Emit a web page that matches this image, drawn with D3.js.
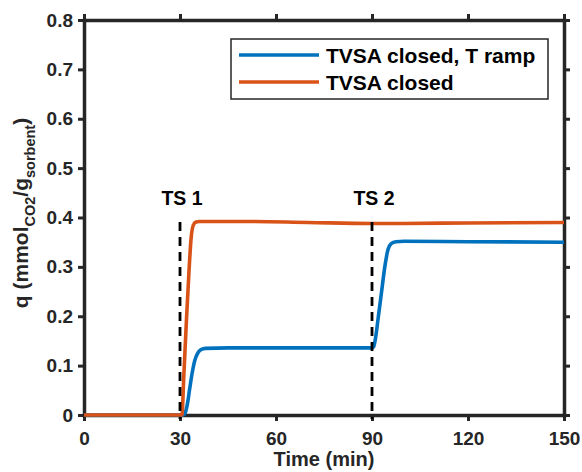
<!DOCTYPE html>
<html>
<head>
<meta charset="utf-8">
<script src="https://cdn.jsdelivr.net/npm/d3@7/dist/d3.min.js"></script>
<style>
  html, body { margin: 0; padding: 0; background: #fff; }
  svg { display: block; font-family: "Liberation Sans", Arial, sans-serif; }
</style>
</head>
<body>
<svg id="chart" width="582" height="472"></svg>
<script>
// ---- data ----
const xTicks = [0, 30, 60, 90, 120, 150];
const yTicks = [0, 0.1, 0.2, 0.3, 0.4, 0.5, 0.6, 0.7, 0.8];
const yTickLabels = ["0", "0.1", "0.2", "0.3", "0.4", "0.5", "0.6", "0.7", "0.8"];

const seriesNames = ["TVSA closed, T ramp", "TVSA closed"];
const seriesColors = ["#0072BD", "#D95319"];

// TVSA closed, T ramp (blue)
const rampTime = [0, 31, 31.6, 32.3, 33, 33.8, 34.6, 35.5, 36.5, 38, 45, 60, 75, 90, 90.5, 91.2, 92, 93, 94, 95, 96, 97.5, 100, 120, 150];
const rampQ    = [0, 0, 0.004, 0.022, 0.052, 0.085, 0.11, 0.125, 0.132, 0.135, 0.136, 0.136, 0.136, 0.136, 0.138, 0.16, 0.2, 0.25, 0.3, 0.335, 0.347, 0.351, 0.352, 0.351, 0.35];

// TVSA closed (orange)
const closedTime = [0, 30, 30.6, 31.2, 32, 32.8, 33.5, 34.2, 35, 36, 50, 70, 90, 100, 120, 150];
const closedQ    = [0, 0, 0.0, 0.08, 0.19, 0.29, 0.36, 0.385, 0.391, 0.392, 0.392, 0.39, 0.388, 0.388, 0.389, 0.39];

// step markers
const tsTime = [30, 90];
const tsLabels = ["TS 1", "TS 2"];
const tsTop = 0.391;

// ---- drawing ----
const svg = d3.select("#chart");
const axisColor = "#262626";
const x = d3.scaleLinear().domain([0, 150]).range([84, 564]);
const y = d3.scaleLinear().domain([0, 0.8]).range([415, 20]);

const gAxes = svg.append("g");
gAxes.append("g").attr("transform", `translate(0,${y(0)})`)
  .call(d3.axisBottom(x).tickValues(xTicks).tickSizeInner(6).tickSizeOuter(0).tickPadding(10.5));
gAxes.append("g").attr("transform", `translate(0,${y(0.8)})`)
  .call(d3.axisTop(x).tickValues(xTicks).tickSizeInner(6).tickSizeOuter(0).tickFormat(""));
gAxes.append("g").attr("transform", `translate(${x(0)},0)`)
  .call(d3.axisLeft(y).tickValues(yTicks).tickFormat((d, i) => yTickLabels[i]).tickSizeInner(6).tickSizeOuter(0).tickPadding(5));
gAxes.append("g").attr("transform", `translate(${x(150)},0)`)
  .call(d3.axisRight(y).tickValues(yTicks).tickSizeInner(6).tickSizeOuter(0).tickFormat(""));

gAxes.selectAll(".domain").attr("stroke", axisColor).attr("stroke-width", 3.5).attr("stroke-linecap", "square");
gAxes.selectAll(".tick line").attr("stroke", axisColor).attr("stroke-width", 3);
gAxes.selectAll(".tick text").attr("fill", axisColor).attr("font-size", 19).attr("font-weight", "bold")
  .attr("font-family", "'Liberation Sans', Arial, sans-serif");

// curves
const line = d3.line().x(d => x(d[0])).y(d => y(d[1])).curve(d3.curveMonotoneX);
const rampData = rampTime.map((t, i) => [t, rampQ[i]]);
const closedData = closedTime.map((t, i) => [t, closedQ[i]]);
svg.append("path").datum(rampData).attr("d", line).attr("fill", "none")
  .attr("stroke", seriesColors[0]).attr("stroke-width", 3.6).attr("stroke-linejoin", "round");
svg.append("path").datum(closedData).attr("d", line).attr("fill", "none")
  .attr("stroke", seriesColors[1]).attr("stroke-width", 3.6).attr("stroke-linejoin", "round");

// dashed step markers
svg.selectAll(".ts").data(tsTime).enter().append("line")
  .attr("x1", d => x(d)).attr("x2", d => x(d))
  .attr("y1", y(tsTop)).attr("y2", y(0) + 4)
  .attr("stroke", "#000").attr("stroke-width", 2.8).attr("stroke-dasharray", "9,6");
svg.selectAll(".tslab").data(tsTime).enter().append("text")
  .attr("x", d => x(d) + 2).attr("y", 205)
  .attr("text-anchor", "middle").attr("font-size", 19.5).attr("font-weight", "bold").attr("fill", "#000")
  .text((d, i) => tsLabels[i]);

// legend
const lg = svg.append("g");
lg.append("rect").attr("x", 231).attr("y", 39).attr("width", 317).attr("height", 60)
  .attr("fill", "#fff").attr("stroke", axisColor).attr("stroke-width", 1.5);
const legY = [55, 82];
seriesNames.forEach((n, i) => {
  lg.append("line").attr("x1", 239).attr("x2", 319).attr("y1", legY[i]).attr("y2", legY[i])
    .attr("stroke", seriesColors[i]).attr("stroke-width", 3.6);
  lg.append("text").attr("x", 326).attr("y", legY[i] + 8)
    .attr("font-size", 21).attr("font-weight", "bold").attr("fill", "#000").text(n);
});

// axis labels
svg.append("text").attr("x", 324).attr("y", 466).attr("text-anchor", "middle")
  .attr("font-size", 20).attr("font-weight", "bold").attr("fill", axisColor).text("Time (min)");

const yl = svg.append("text").attr("transform", "translate(28,213) rotate(-90)")
  .attr("text-anchor", "middle").attr("font-size", 21).attr("font-weight", "bold").attr("fill", axisColor);
yl.append("tspan").text("q (mmol");
yl.append("tspan").attr("font-size", 14.5).attr("dy", 7).text("CO2");
yl.append("tspan").attr("dy", -7).text("/g");
yl.append("tspan").attr("font-size", 14.5).attr("dy", 7).text("sorbent");
yl.append("tspan").attr("dy", -7).text(")");
</script>
</body>
</html>
